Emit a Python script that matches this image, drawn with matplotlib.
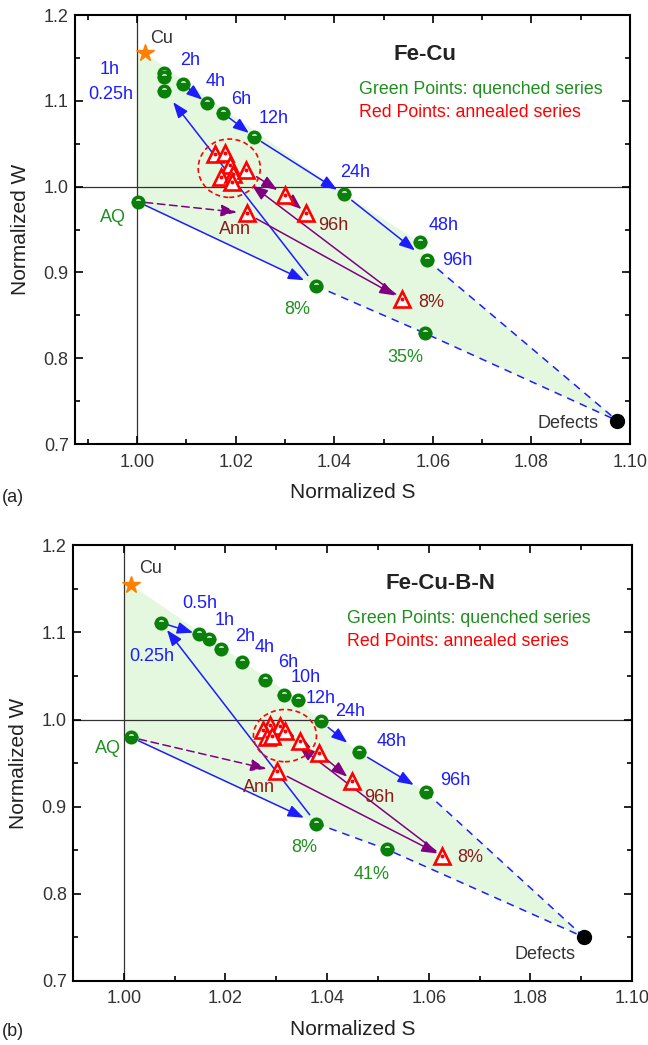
"""
Positron S-W plot for two alloys: quenched (green) and annealed (red) series
with the Cu and defect reference points.
"""
import matplotlib
matplotlib.use("Agg")
import matplotlib.pyplot as plt
from matplotlib.patches import Ellipse, FancyArrowPatch, Polygon
from matplotlib.ticker import MultipleLocator

plt.rcParams["font.family"] = ["Liberation Sans", "DejaVu Sans"]

GREEN = "#0a7f0a"
GREEN_TXT = "#1f8f1f"
BLUE = "#1c1cff"
PURPLE = "#800080"
RED = "#ff0000"
DARKRED = "#8b1a1a"
GREY = "#333333"
SHADE = "#e4f8e0"

REF_S = 1.0
REF_W = 1.0

# ---------------- (a) Fe-Cu ----------------
FECU_Q_KEY = ["AQ", "0.25h", "1h", "1h'", "2h", "4h", "6h", "12h", "24h", "48h", "96h", "8%", "35%"]
FECU_Q_S = [1.0001, 1.0055, 1.0055, 1.0055, 1.0094, 1.0141, 1.0175, 1.0238, 1.0420, 1.0573, 1.0588, 1.0363, 1.0584]
FECU_Q_W = [0.9825, 1.1119, 1.1329, 1.1275, 1.1193, 1.0972, 1.0855, 1.0576, 0.9911, 0.9355, 0.9146, 0.8843, 0.8291]
FECU_A_KEY = ["c1", "c2", "c3", "c4", "c5", "c6", "c7", "m", "96h", "Ann", "8%"]
FECU_A_S = [1.0158, 1.0179, 1.0188, 1.0170, 1.0194, 1.0221, 1.0192, 1.0300, 1.0343, 1.0222, 1.0538]
FECU_A_W = [1.0381, 1.0389, 1.0253, 1.0117, 1.0148, 1.0195, 1.0058, 0.9903, 0.9690, 0.9690, 0.8688]
FECU_CU = (1.0016, 1.1558)
FECU_DEFECTS = (1.0974, 0.7273)
FECU_RING = (1.0187, 1.0215)

# ---------------- (b) Fe-Cu-B-N ----------------
FCBN_Q_KEY = ["AQ", "0.25h", "0.5h", "1h", "2h", "4h", "6h", "10h", "12h", "24h", "48h", "96h", "8%", "41%"]
FCBN_Q_S = [1.0014, 1.0074, 1.0148, 1.0168, 1.0191, 1.0232, 1.0278, 1.0316, 1.0343, 1.0387, 1.0463, 1.0595, 1.0379, 1.0517]
FCBN_Q_W = [0.9796, 1.1111, 1.0977, 1.0931, 1.0815, 1.0661, 1.0450, 1.0285, 1.0227, 0.9980, 0.9623, 0.9162, 0.8804, 0.8509]
FCBN_A_KEY = ["c1", "c2", "c3", "c4", "c5", "c6", "c7", "m", "96h", "Ann", "8%"]
FCBN_A_S = [1.0287, 1.0274, 1.0307, 1.0317, 1.0281, 1.0291, 1.0347, 1.0384, 1.0449, 1.0302, 1.0627]
FCBN_A_W = [0.9942, 0.9881, 0.9931, 0.9873, 0.9796, 0.9815, 0.9750, 0.9616, 0.9296, 0.9404, 0.8431]
FCBN_CU = (1.0015, 1.1546)
FCBN_DEFECTS = (1.0906, 0.7497)
FCBN_RING = (1.0317, 0.9815)

# arrows: (from, to, colour, dashed, shrinkA, shrinkB) -- "q"/"a" series keys
FECU_ARROWS = [
    (("q", "2h"), ("q", "4h"), BLUE, False, 4, 4),
    (("q", "6h"), ("q", "12h"), BLUE, False, 4, 5),
    (("q", "12h"), ("q", "24h"), BLUE, False, 6, 6),
    (("q", "24h"), ("q", "96h"), BLUE, False, 7, 11),
    (("q", "AQ"), ("q", "8%"), BLUE, False, 6, 9.5),
    (("q", "8%"), ("q", "0.25h"), BLUE, False, 9.5, 10.5),
    (("q", "AQ"), ("a", "Ann"), PURPLE, True, 5.5, 7),
    (("a", "c6"), ("a", "m"), PURPLE, False, 9, 6.5),
    (("a", "m"), ("a", "96h"), PURPLE, False, 6, 4.5),
    (("a", "Ann"), ("a", "8%"), PURPLE, False, 8, 5.5),
    (("a", "8%"), ("ring", ""), PURPLE, False, 6, 20.5),
]
FCBN_ARROWS = [
    (("q", "0.25h"), ("q", "0.5h"), BLUE, False, 4, 4.5),
    (("q", "24h"), ("q", "48h"), BLUE, False, 7, 11),
    (("q", "48h"), ("q", "96h"), BLUE, False, 7, 10.5),
    (("q", "AQ"), ("q", "8%"), BLUE, False, 6, 10),
    (("q", "8%"), ("q", "0.25h"), BLUE, False, 8, 6.5),
    (("q", "AQ"), ("a", "Ann"), PURPLE, True, 6, 8),
    (("a", "c4"), ("a", "c7"), PURPLE, False, 5, 4.6),
    (("a", "c7"), ("a", "m"), PURPLE, False, 5, 6.6),
    (("a", "m"), ("a", "96h"), PURPLE, False, 6, 4.5),
    (("a", "Ann"), ("a", "8%"), PURPLE, False, 8, 4),
    (("a", "8%"), ("ring", ""), PURPLE, False, 6, 12.5),
]

# label offsets in points: key -> (text, dx, dy, colour)
FECU_LABELS = {
    ("cu", ""): ("Cu", 11.7, 10.6, GREY),
    ("q", "1h"): ("1h", -39.1, 2.4, BLUE),
    ("q", "0.25h"): ("0.25h", -38.4, -2.6, BLUE),
    ("q", "2h"): ("2h", 4.8, 16.8, BLUE),
    ("q", "4h"): ("4h", 6.7, 15.6, BLUE),
    ("q", "6h"): ("6h", 13.2, 10.1, BLUE),
    ("q", "12h"): ("12h", 13.7, 13.2, BLUE),
    ("q", "24h"): ("24h", 7.9, 15.6, BLUE),
    ("q", "48h"): ("48h", 17.3, 12.2, BLUE),
    ("q", "96h"): ("96h", 22.0, -0.5, BLUE),
    ("q", "AQ"): ("AQ", -17.7, -11.2, GREEN_TXT),
    ("q", "8%"): ("8%", -13.5, -17.3, GREEN_TXT),
    ("q", "35%"): ("35%", -14.4, -17.3, GREEN_TXT),
    ("def", ""): ("Defects", -35.3, -2.4, GREY),
    ("a", "Ann"): ("Ann", -8.4, -11.5, DARKRED),
    ("a", "96h"): ("96h", 19.2, -9.1, DARKRED),
    ("a", "8%"): ("8%", 20.9, -2.4, DARKRED),
}
FCBN_LABELS = {
    ("cu", ""): ("Cu", 13.7, 12.0, GREY),
    ("q", "0.5h"): ("0.5h", 0.5, 22.3, BLUE),
    ("q", "1h"): ("1h", 11.3, 13.2, BLUE),
    ("q", "2h"): ("2h", 17.3, 8.9, BLUE),
    ("q", "4h"): ("4h", 16.8, 10.4, BLUE),
    ("q", "6h"): ("6h", 16.3, 12.5, BLUE),
    ("q", "10h"): ("10h", 15.4, 12.2, BLUE),
    ("q", "12h"): ("12h", 16.3, 0.7, BLUE),
    ("q", "24h"): ("24h", 21.1, 7.2, BLUE),
    ("q", "48h"): ("48h", 23.3, 7.9, BLUE),
    ("q", "96h"): ("96h", 20.9, 8.4, BLUE),
    ("q", "0.25h"): ("0.25h", -7.2, -24.5, BLUE),
    ("q", "AQ"): ("AQ", -16.8, -8.4, GREEN_TXT),
    ("q", "8%"): ("8%", -9.1, -17.3, GREEN_TXT),
    ("q", "41%"): ("41%", -10.8, -18.0, GREEN_TXT),
    ("def", ""): ("Defects", -28.3, -12.5, GREY),
    ("a", "Ann"): ("Ann", -13.0, -11.5, DARKRED),
    ("a", "96h"): ("96h", 19.7, -12.0, DARKRED),
    ("a", "8%"): ("8%", 19.7, -1.2, DARKRED),
}


def points(q_key, q_s, q_w, a_key, a_s, a_w, cu, defects, ring):
    pts = {("q", k): (s, w) for k, s, w in zip(q_key, q_s, q_w)}
    pts.update({("a", k): (s, w) for k, s, w in zip(a_key, a_s, a_w)})
    pts[("cu", "")] = cu
    pts[("def", "")] = defects
    pts[("ring", "")] = ring
    return pts


def draw_panel(ax, pts, q_s, q_w, a_s, a_w, hull, dashed, arrows, labels,
               ring_wh, title, box_xy, xlim):
    # shaded region between the reference corner and the defect point
    poly = [(REF_S, pts[hull[0]][1])] + [pts[k] for k in hull] + [(REF_S, pts[hull[-1]][1])]
    ax.add_patch(Polygon(poly, closed=True, fc=SHADE, ec="none", zorder=0))
    ax.axhline(REF_W, color=GREY, lw=0.9, zorder=1)
    ax.axvline(REF_S, color=GREY, lw=0.9, zorder=1)

    for chain in dashed:
        ax.plot([pts[k][0] for k in chain], [pts[k][1] for k in chain],
                color=BLUE, lw=1.1, dashes=(5, 4), zorder=2)

    for p0, p1, col, dsh, sa, sb in arrows:
        ax.add_patch(FancyArrowPatch(pts[p0], pts[p1],
                                     arrowstyle="-|>,head_length=0.8,head_width=0.3",
                                     mutation_scale=12, color=col, lw=1.1,
                                     linestyle=(0, (5, 3)) if dsh else "-",
                                     shrinkA=sa, shrinkB=sb, zorder=3))

    ax.add_patch(Ellipse(pts[("ring", "")], ring_wh[0], ring_wh[1], fill=False,
                         ec=RED, lw=1.2, ls=(0, (3, 2)), zorder=4))

    ax.plot(q_s, q_w, ls="none", marker="o", ms=7.5, mew=2.6, mfc=GREEN,
            mfcalt="white", mec=GREEN, fillstyle="bottom", zorder=5)
    for s, w in zip(a_s, a_w):
        ax.plot([s], [w], ls="none", marker="^", ms=11, mew=1.9, mfc="white",
                mec=RED, zorder=6)
        ax.plot([s], [w], ls="none", marker="o", ms=1.8, mfc=RED, mec=RED, zorder=6)
    ax.plot(*pts[("cu", "")], marker="*", ms=13, color="#ff8000", mec="#ff8000", zorder=6)
    ax.plot(*pts[("def", "")], marker="o", ms=10, color="black", zorder=6)

    for key, (txt, dx, dy, col) in labels.items():
        ax.annotate(txt, xy=pts[key], xytext=(dx, dy), textcoords="offset points",
                    ha="center", va="center", color=col, fontsize=13, zorder=8)

    ax.text(box_xy[0], box_xy[1], title, transform=ax.transAxes, ha="center",
            va="center", fontsize=16, fontweight="bold", color="#222222")
    ax.text(box_xy[2], box_xy[3], "Green Points: quenched series", transform=ax.transAxes,
            ha="left", va="center", fontsize=12.8, color=GREEN_TXT)
    ax.text(box_xy[2], box_xy[4], "Red Points: annealed series", transform=ax.transAxes,
            ha="left", va="center", fontsize=12.8, color=RED)

    ax.set_xlim(*xlim)
    ax.set_ylim(0.7, 1.2)
    ax.xaxis.set_major_locator(MultipleLocator(0.02))
    ax.xaxis.set_minor_locator(MultipleLocator(0.01))
    ax.yaxis.set_major_locator(MultipleLocator(0.1))
    ax.yaxis.set_minor_locator(MultipleLocator(0.05))
    ax.xaxis.set_major_formatter(lambda v, p: f"{v:.2f}")
    ax.yaxis.set_major_formatter(lambda v, p: f"{v:.1f}")
    ax.tick_params(which="both", direction="in", top=True, right=True, width=1.2,
                   labelsize=13, labelcolor=GREY)
    ax.tick_params(which="major", length=6)
    ax.tick_params(which="minor", length=3.5)
    ax.tick_params(axis="x", pad=7)
    ax.tick_params(axis="y", pad=4.5)
    for sp in ax.spines.values():
        sp.set_linewidth(1.5)
    ax.set_xlabel("Normalized S", fontsize=15, color="#222222", labelpad=9)
    ax.set_ylabel("Normalized W", fontsize=15, color="#222222", labelpad=10)


fig = plt.figure(figsize=(6.48, 10.45), dpi=100)
ax_a = fig.add_axes([0.1157, 0.5751, 0.8565, 0.4105])
ax_b = fig.add_axes([0.1127, 0.0617, 0.8627, 0.4163])

pts_a = points(FECU_Q_KEY, FECU_Q_S, FECU_Q_W, FECU_A_KEY, FECU_A_S, FECU_A_W,
               FECU_CU, FECU_DEFECTS, FECU_RING)
draw_panel(ax_a, pts_a, FECU_Q_S, FECU_Q_W, FECU_A_S, FECU_A_W,
           hull=[("cu", ""), ("q", "24h"), ("q", "48h"), ("q", "96h"), ("def", ""),
                 ("q", "35%"), ("q", "8%"), ("q", "AQ")],
           dashed=[[("q", "96h"), ("def", "")], [("q", "8%"), ("q", "35%"), ("def", "")]],
           arrows=FECU_ARROWS, labels=FECU_LABELS, ring_wh=(0.0126, 0.068),
           title="Fe-Cu", box_xy=(0.630, 0.907, 0.512, 0.827, 0.772),
           xlim=(0.9874, 1.10))

pts_b = points(FCBN_Q_KEY, FCBN_Q_S, FCBN_Q_W, FCBN_A_KEY, FCBN_A_S, FCBN_A_W,
               FCBN_CU, FCBN_DEFECTS, FCBN_RING)
draw_panel(ax_b, pts_b, FCBN_Q_S, FCBN_Q_W, FCBN_A_S, FCBN_A_W,
           hull=[("cu", ""), ("q", "12h"), ("q", "24h"), ("q", "48h"), ("q", "96h"),
                 ("def", ""), ("q", "41%"), ("q", "8%"), ("q", "AQ")],
           dashed=[[("q", "96h"), ("def", "")], [("q", "8%"), ("q", "41%"), ("def", "")]],
           arrows=FCBN_ARROWS, labels=FCBN_LABELS, ring_wh=(0.0124, 0.060),
           title="Fe-Cu-B-N", box_xy=(0.6565, 0.913, 0.4896, 0.8326, 0.7789),
           xlim=(0.99, 1.10))

fig.text(0.003, 1 - 497 / 1045, "(a)", fontsize=13, color="#222222", va="center")
fig.text(0.003, 1 - 1031 / 1045, "(b)", fontsize=13, color="#222222", va="center")

fig.savefig("out.png", dpi=100)
